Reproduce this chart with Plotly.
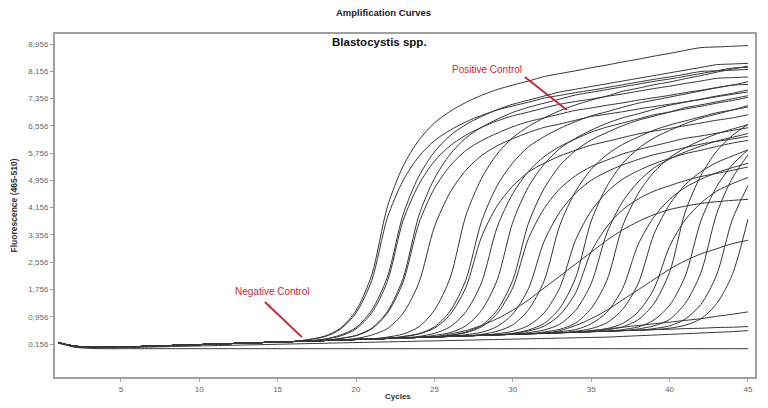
import plotly.graph_objects as go

cycles = list(range(1, 46))

# shared early-cycle baseline (cycles 1..45)
baseline = [0.20, 0.10, 0.06, 0.06, 0.07, 0.08, 0.10, 0.11, 0.13, 0.14,
            0.16, 0.17, 0.19, 0.20, 0.22, 0.23, 0.25, 0.26, 0.28, 0.29,
            0.31, 0.32, 0.34, 0.35, 0.37, 0.38, 0.40, 0.41, 0.43, 0.44,
            0.46, 0.47, 0.49, 0.50, 0.52, 0.53, 0.55, 0.56, 0.58, 0.59,
            0.61, 0.62, 0.64, 0.65, 0.67]

# cycle at which each curve leaves the baseline
amp_starts = [17, 18, 18, 19, 19, 20, 17, 22, 23, 23, 24, 25, 26, 26, 27, 28,
              29, 30, 30, 31, 32, 33, 34, 35, 36, 37, 38, 39, 40, 26, 33, 35]

# fluorescence values from the start cycle up to cycle 45
amp_values = [
    [.29, .39, .62, 1.14, 2.18, 4.18, 5.37, 6.13, 6.64, 6.98, 7.24, 7.45, 7.62, 7.75, 7.87, 8.00, 8.09, 8.17, 8.26, 8.34, 8.43, 8.51, 8.60, 8.68, 8.77, 8.85, 8.87, 8.89, 8.91],
    [.30, .39, .60, 1.07, 1.99, 3.77, 4.83, 5.52, 5.97, 6.28, 6.51, 6.70, 6.85, 6.96, 7.08, 7.19, 7.27, 7.34, 7.42, 7.49, 7.57, 7.65, 7.72, 7.80, 7.87, 7.95, 7.97, 7.99],
    [.30, .42, .64, 1.15, 2.12, 3.95, 5.07, 5.79, 6.27, 6.59, 6.83, 7.03, 7.19, 7.31, 7.43, 7.55, 7.63, 7.71, 7.79, 7.87, 7.95, 8.03, 8.11, 8.19, 8.27, 8.35, 8.37, 8.39],
    [.32, .40, .60, 1.06, 1.97, 3.68, 4.72, 5.38, 5.83, 6.12, 6.34, 6.53, 6.68, 6.79, 6.90, 7.01, 7.08, 7.16, 7.23, 7.31, 7.38, 7.45, 7.53, 7.60, 7.68, 7.75, 7.77],
    [.32, .41, .62, 1.11, 2.08, 3.91, 5.01, 5.72, 6.20, 6.51, 6.75, 6.95, 7.10, 7.22, 7.34, 7.46, 7.54, 7.62, 7.70, 7.78, 7.86, 7.93, 8.01, 8.09, 8.17, 8.25, 8.27],
    [.32, .42, .61, 1.06, 1.94, 3.59, 4.60, 5.25, 5.68, 5.97, 6.18, 6.36, 6.51, 6.61, 6.72, 6.83, 6.90, 6.97, 7.05, 7.12, 7.19, 7.26, 7.33, 7.41, 7.48, 7.55],
    [.29, .37, .59, 1.07, 2.02, 3.86, 4.95, 5.65, 6.12, 6.43, 6.67, 6.86, 7.02, 7.14, 7.25, 7.37, 7.45, 7.53, 7.60, 7.68, 7.76, 7.84, 7.92, 7.99, 8.07, 8.15, 8.17, 8.19, 8.21],
    [.36, .45, .66, 1.15, 2.09, 3.91, 5.01, 5.73, 6.21, 6.54, 6.79, 7.00, 7.17, 7.31, 7.43, 7.57, 7.66, 7.76, 7.84, 7.94, 8.03, 8.13, 8.22, 8.31],
    [.38, .46, .66, 1.12, 2.03, 3.74, 4.80, 5.47, 5.94, 6.24, 6.48, 6.68, 6.85, 6.97, 7.10, 7.22, 7.31, 7.40, 7.49, 7.58, 7.67, 7.75, 7.85],
    [.37, .45, .62, 1.02, 1.81, 3.29, 4.21, 4.79, 5.20, 5.46, 5.67, 5.84, 5.99, 6.10, 6.21, 6.32, 6.40, 6.48, 6.56, 6.64, 6.72, 6.79, 6.88],
    [.38, .47, .66, 1.10, 1.95, 3.58, 4.57, 5.22, 5.65, 5.95, 6.17, 6.37, 6.52, 6.64, 6.76, 6.88, 6.96, 7.05, 7.13, 7.22, 7.30, 7.39],
    [.41, .49, .69, 1.14, 2.03, 3.73, 4.77, 5.43, 5.89, 6.19, 6.43, 6.63, 6.79, 6.91, 7.04, 7.16, 7.25, 7.34, 7.43, 7.51, 7.61],
    [.41, .49, .66, 1.05, 1.81, 3.25, 4.13, 4.71, 5.09, 5.36, 5.55, 5.73, 5.86, 5.97, 6.08, 6.19, 6.26, 6.34, 6.42, 6.50],
    [.41, .51, .70, 1.15, 2.03, 3.70, 4.72, 5.39, 5.83, 6.14, 6.36, 6.56, 6.72, 6.84, 6.96, 7.09, 7.17, 7.26, 7.35, 7.44],
    [.43, .50, .67, 1.04, 1.78, 3.17, 4.03, 4.58, 4.96, 5.21, 5.41, 5.57, 5.71, 5.81, 5.92, 6.02, 6.10, 6.17, 6.25],
    [.44, .53, .72, 1.16, 2.01, 3.64, 4.63, 5.28, 5.71, 6.01, 6.23, 6.43, 6.58, 6.70, 6.82, 6.94, 7.02, 7.11],
    [.46, .53, .70, 1.07, 1.81, 3.20, 4.06, 4.61, 4.99, 5.24, 5.44, 5.60, 5.74, 5.84, 5.95, 6.05, 6.13],
    [.47, .57, .76, 1.21, 2.09, 3.76, 4.78, 5.45, 5.89, 6.20, 6.42, 6.62, 6.78, 6.90, 7.02, 7.15],
    [.46, .54, .68, 1.01, 1.65, 2.86, 3.60, 4.09, 4.41, 4.64, 4.80, 4.95, 5.07, 5.16, 5.25, 5.35],
    [.49, .57, .74, 1.14, 1.93, 3.41, 4.33, 4.91, 5.32, 5.58, 5.79, 5.96, 6.11, 6.22, 6.33],
    [.51, .59, .77, 1.20, 2.02, 3.61, 4.57, 5.20, 5.62, 5.91, 6.13, 6.32, 6.46, 6.59],
    [.52, .58, .75, 1.09, 1.78, 3.08, 3.88, 4.40, 4.75, 4.99, 5.18, 5.33, 5.46],
    [.53, .61, .78, 1.17, 1.93, 3.37, 4.25, 4.83, 5.21, 5.48, 5.67, 5.85],
    [.55, .61, .76, 1.10, 1.77, 3.02, 3.80, 4.29, 4.64, 4.86, 5.04],
    [.57, .66, .87, 1.34, 2.26, 4.03, 5.10, 5.81, 6.27, 6.60],
    [.58, .66, .86, 1.29, 2.15, 3.77, 4.77, 5.41, 5.85],
    [.60, .69, .88, 1.35, 2.25, 3.97, 5.02, 5.70],
    [.61, .69, .89, 1.32, 2.18, 3.80, 4.80],
    [.62, .71, .90, 1.34, 2.19, 3.82],
    [.45, .55, .70, .90, 1.15, 1.45, 1.80, 2.15, 2.50, 2.85, 3.20, 3.50, 3.75, 3.95, 4.10, 4.20, 4.28, 4.33, 4.37, 4.40],
    [.55, .70, .90, 1.15, 1.45, 1.75, 2.05, 2.35, 2.60, 2.80, 2.95, 3.10, 3.20],
    [.55, .60, .65, .70, .75, .80, .85, .90, .97, 1.03, 1.10],
]

# non-amplifying samples (full 45 cycles)
low_curve = [0.18, 0.08, 0.05, 0.04, 0.05, 0.06, 0.07, 0.08, 0.09, 0.10,
             0.11, 0.12, 0.13, 0.14, 0.15, 0.16, 0.17, 0.18, 0.19, 0.20,
             0.21, 0.22, 0.23, 0.24, 0.25, 0.26, 0.27, 0.28, 0.29, 0.30,
             0.31, 0.32, 0.33, 0.34, 0.35, 0.36, 0.38, 0.40, 0.42, 0.44,
             0.46, 0.48, 0.50, 0.52, 0.55]
flat_curve = [0.22, 0.07, 0.03, 0.02, 0.02, 0.02, 0.02, 0.02, 0.02, 0.02,
              0.02, 0.02, 0.02, 0.02, 0.02, 0.02, 0.02, 0.02, 0.02, 0.02,
              0.02, 0.02, 0.02, 0.02, 0.02, 0.02, 0.02, 0.02, 0.02, 0.02,
              0.02, 0.02, 0.02, 0.02, 0.02, 0.02, 0.02, 0.02, 0.02, 0.02,
              0.02, 0.02, 0.02, 0.02, 0.02]

y_tickvals = [0.156, 0.956, 1.756, 2.556, 3.356, 4.156, 4.956, 5.756, 6.556, 7.356, 8.156, 8.956]
y_ticktext = ["0,156", "0,956", "1,756", "2,556", "3,356", "4,156", "4,956", "5,756", "6,556", "7,356", "8,156", "8,956"]
x_tickvals = [5, 10, 15, 20, 25, 30, 35, 40, 45]

LINE = "#363636"
RED = "#c8283a"
FONT = "Liberation Sans"

fig = go.Figure()

curves = [baseline[:s - 1] + v for s, v in zip(amp_starts, amp_values)]
curves += [baseline, low_curve, flat_curve]
for ys in curves:
    fig.add_trace(go.Scatter(x=cycles, y=ys, mode="lines",
                             line=dict(color=LINE, width=1, shape="spline", smoothing=0.8),
                             hoverinfo="skip", showlegend=False))

# page body has an 8px default margin, so the figure is 8px smaller
fig.update_layout(
    width=760, height=400,
    margin=dict(l=47, r=13, t=26, b=31),
    paper_bgcolor="white", plot_bgcolor="white",
    font=dict(family=FONT, size=8, color="#666"),
    showlegend=False,
)
fig.update_xaxes(range=[0.8, 45.45], tickvals=x_tickvals, showgrid=False,
                 zeroline=False, showline=True, mirror=True,
                 linecolor="#a0a0a0", linewidth=2, ticks="outside",
                 ticklen=3, tickcolor="#a0a0a0",
                 tickfont=dict(size=8, color="#666"))
fig.update_yaxes(range=[-0.81, 9.25], tickvals=y_tickvals, ticktext=y_ticktext,
                 showgrid=False, zeroline=False, showline=True, mirror=True,
                 linecolor="#a0a0a0", linewidth=2, ticks="outside",
                 ticklen=3, tickcolor="#a0a0a0",
                 tickfont=dict(size=8, color="#666"))

annos = [
    dict(text="<b>Amplification Curves</b>", x=0.469, y=1.064, size=9.5, color="#222", angle=0),
    dict(text="<b>Blastocystis spp.</b>", x=0.463, y=0.977, size=11.5, color="#111", angle=0),
    dict(text="<b>Fluorescence (465-510)</b>", x=-0.06, y=0.5, size=8.5, color="#333", angle=-90),
    dict(text="<b>Cycles</b>", x=0.49, y=-0.058, size=8, color="#333", angle=0),
]
for a in annos:
    fig.add_annotation(text=a["text"], xref="paper", yref="paper", x=a["x"], y=a["y"],
                       showarrow=False, textangle=a["angle"],
                       font=dict(family=FONT, size=a["size"], color=a["color"]),
                       xanchor="center", yanchor="middle")

# control labels with pointer lines
fig.add_annotation(text="Negative Control", x=14.63, y=1.71, xref="x", yref="y",
                   showarrow=False, font=dict(family=FONT, size=10, color=RED))
fig.add_shape(type="line", x0=14.19, y0=1.39, x1=16.55, y1=0.36, xref="x", yref="y",
              line=dict(color=RED, width=2))
fig.add_annotation(text="Positive Control", x=28.35, y=8.22, xref="x", yref="y",
                   showarrow=False, font=dict(family=FONT, size=10, color=RED))
fig.add_shape(type="line", x0=30.77, y0=7.99, x1=33.45, y1=7.02, xref="x", yref="y",
              line=dict(color=RED, width=2))

fig.write_html("out.html")
